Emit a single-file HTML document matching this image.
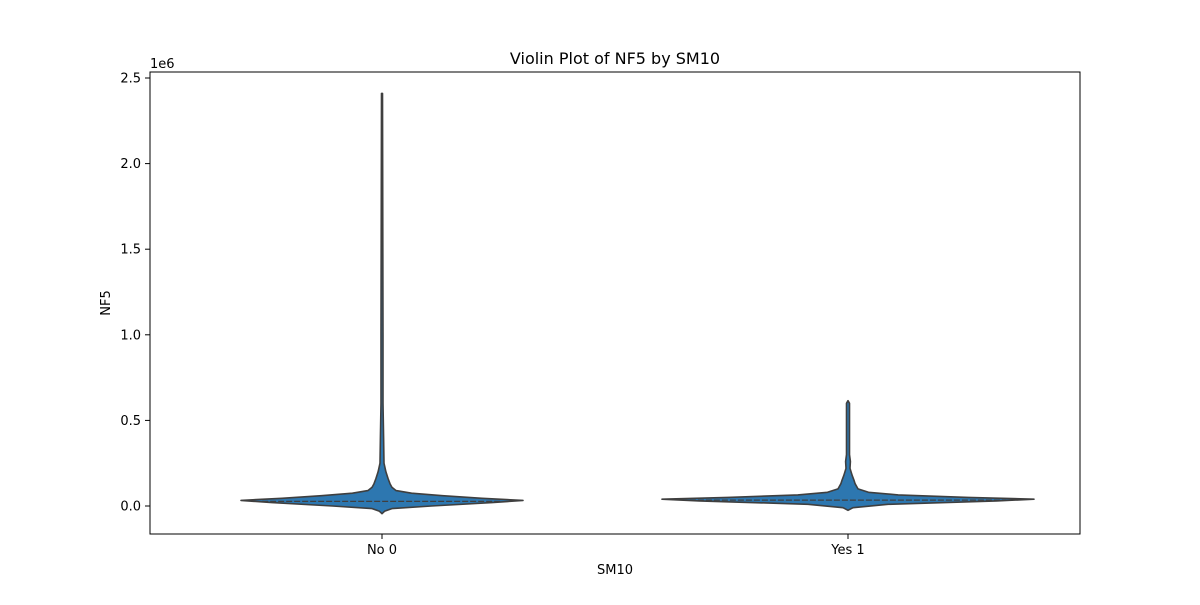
<!DOCTYPE html>
<html><head><meta charset="utf-8"><style>
body{margin:0;background:#fff;font-family:"Liberation Sans",sans-serif}
svg text{font-family:"DejaVu Sans","Liberation Sans",sans-serif;fill:#000}
</style></head><body>
<svg id="chart" width="1200" height="600" xmlns="http://www.w3.org/2000/svg">
<rect width="1200" height="600" fill="#fff"/>
<text x="615" y="64" font-size="16" text-anchor="middle">Violin Plot of NF5 by SM10</text>
<text x="615" y="574" font-size="13" text-anchor="middle">SM10</text>
<text x="110" y="303" font-size="13" text-anchor="middle" transform="rotate(-90 110 303)">NF5</text>
<text x="150" y="68" font-size="13">1e6</text>
<g id="plot"></g>
<rect x="150" y="72" width="930" height="462" fill="none" stroke="#000" stroke-width="1"/>
</svg>
<script>
const categories = ["No 0", "Yes 1"];
const yTicks = [0, 0.5, 1.0, 1.5, 2.0, 2.5];
const yTickLabels = ["0.0", "0.5", "1.0", "1.5", "2.0", "2.5"];
// NF5 values (thousands) and relative density widths per group
const noValues = [-45,-30,-15,0,20,33,45,60,75,90,110,130,160,200,250,400,600,1000,2410];
const noDensity = [0,0.02,0.07,0.35,0.78,1.0,0.71,0.43,0.21,0.1,0.07,0.057,0.043,0.028,0.014,0.011,0.007,0.007,0.0035];
const yesValues = [-25,-10,10,30,40,50,65,80,100,130,150,180,220,260,300,600,615];
const yesDensity = [0,0.027,0.215,0.8,1.0,0.645,0.27,0.11,0.054,0.038,0.032,0.022,0.011,0.013,0.008,0.008,0];
const groupMaxHalf = [141, 186];

const svgNS = "http://www.w3.org/2000/svg";
const plot = document.getElementById('plot');
const y = v => 506 - v * 171.2;          // v in millions
const x = i => 382 + i * 466;
function mk(tag, attrs){const e=document.createElementNS(svgNS,tag);for(const k in attrs)e.setAttribute(k,attrs[k]);plot.appendChild(e);return e;}

yTicks.forEach((t,i)=>{
  const l=mk('line',{x1:145,x2:150,y1:y(t),y2:y(t),stroke:'#000'});
  
  
  const tx=mk('text',{x:141,y:y(t)+4.5,'font-size':13,'text-anchor':'end'});
  tx.textContent=yTickLabels[i];
  
  
});
categories.forEach((c,i)=>{
  const l=mk('line',{x1:x(i),x2:x(i),y1:534,y2:539,stroke:'#000'});
  
  
  const tx=mk('text',{x:x(i),y:554,'font-size':13,'text-anchor':'middle'});
  tx.textContent=c;
  
  
});

const groups=[[noValues,noDensity],[yesValues,yesDensity]];
groups.forEach((g,i)=>{
  const [vals,dens]=g, cx=x(i), h=groupMaxHalf[i];
  let right=vals.map((v,k)=>[cx+dens[k]*h, y(v/1000)]);
  let left=vals.map((v,k)=>[cx-dens[k]*h, y(v/1000)]).reverse();
  const pts=right.concat(left);
  const d='M'+pts.map(p=>p[0].toFixed(1)+','+p[1].toFixed(1)).join('L')+'Z';
  const p=mk('path',{d:d,fill:'#2d77b0',stroke:'#3f3f3f','stroke-width':1.6,'stroke-linejoin':'round'});
  
  
  // inner stick line across the median
  let mi=dens.indexOf(1.0);
  const yy=y(vals[mi]/1000)+1;
  const ln=mk('line',{x1:cx-h*0.85,x2:cx+h*0.85,y1:yy,y2:yy,stroke:'#3f3f3f','stroke-width':1.2,'stroke-dasharray':'6,2'});
  
  
});
</script>
</body></html>
